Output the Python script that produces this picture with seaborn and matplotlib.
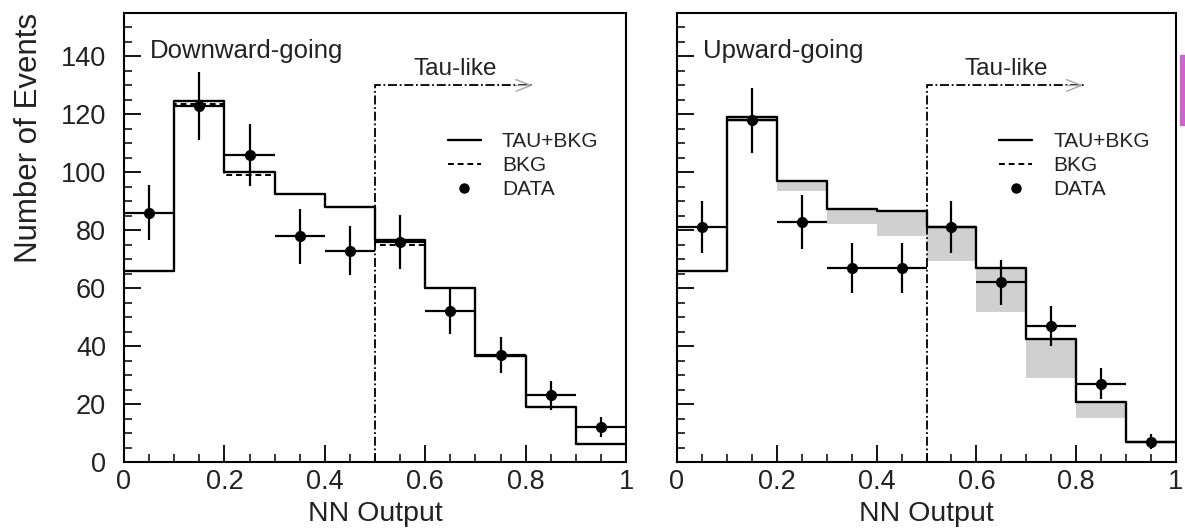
import numpy as np
import matplotlib
matplotlib.use("Agg")
import matplotlib.pyplot as plt
import seaborn as sns
from matplotlib.lines import Line2D
from matplotlib.ticker import MultipleLocator, FuncFormatter
from matplotlib.patches import Rectangle

# ---------------- data ----------------
bin_edges = [0.0, 0.1, 0.2, 0.3, 0.4, 0.5, 0.6, 0.7, 0.8, 0.9, 1.0]
bin_centers = [0.05, 0.15, 0.25, 0.35, 0.45, 0.55, 0.65, 0.75, 0.85, 0.95]

# Downward-going
down_tau_bkg = [66, 124.5, 100, 92.4, 88, 76.7, 60, 36.6, 18.9, 6.3]
down_bkg = [66, 123.6, 99.2, 92.4, 88, 75.0, 60, 36.6, 18.9, 6.3]
down_data = [86, 123, 106, 78, 73, 76, 52, 37, 23, 12]
down_err = [9.5, 11.8, 10.7, 9.5, 8.6, 9.3, 7.7, 6.3, 5.1, 3.5]

# Upward-going
up_tau_bkg = [66, 119.2, 97.1, 87.2, 86.6, 81.2, 66.9, 42.3, 20.6, 6.9]
up_band_low = [65.5, 117.5, 93.4, 82, 78, 69.4, 51.8, 28.9, 15.1, 6.6]
up_data = [81, 118, 83, 67, 67, 81, 62, 47, 27, 7]
up_err = [9.0, 11.2, 9.3, 8.5, 8.5, 9.0, 7.9, 6.8, 5.3, 2.6]

panel_titles = ["Downward-going", "Upward-going"]
legend_labels = ["TAU+BKG", "BKG", "DATA"]
tau_cut = 0.5
arrow_y = 130
arrow_end = 0.815

# ---------------- style ----------------
sns.set_theme(style="ticks")
plt.rcParams['font.family'] = ['Liberation Sans', 'DejaVu Sans']
plt.rcParams['axes.linewidth'] = 1.5

W, H = 1185, 528
fig = plt.figure(figsize=(W / 100, H / 100), dpi=100)
bottom = 1 - 462 / H
height = (462 - 13) / H
axL = fig.add_axes([124 / W, bottom, (626 - 124) / W, height])
axR = fig.add_axes([677 / W, bottom, (1176 - 677) / W, height], sharey=axL)

half_w = np.diff(bin_edges) / 2


def draw_panel(ax, tau_bkg, bkg, data, err, band_low, title, show_ylab):
    if band_low is not None:
        ax.stairs(tau_bkg, bin_edges, baseline=band_low, fill=True,
                  color='#d0d0d0', lw=0, zorder=1)
    if bkg is not None:
        sns.histplot(x=bin_centers, weights=bkg, bins=bin_edges, element="step",
                     fill=False, color="black", linewidth=1.4,
                     linestyle=(0, (3, 2)), ax=ax, zorder=2)
    sns.histplot(x=bin_centers, weights=tau_bkg, bins=bin_edges, element="step",
                 fill=False, color="black", linewidth=1.7, ax=ax, zorder=3)
    ax.errorbar(bin_centers, data, yerr=err, xerr=half_w, fmt='o', color='black',
                ms=7, elinewidth=1.6, capsize=0, zorder=4)

    # Tau-like region marker
    ax.plot([tau_cut, tau_cut, arrow_end], [0, arrow_y, arrow_y], color='black',
            lw=1.3, ls=(0, (5, 1.5, 1, 1.5)), zorder=3)
    ax.annotate('', xy=(arrow_end + 0.005, arrow_y), xytext=(arrow_end - 0.04, arrow_y),
                arrowprops=dict(arrowstyle='->, head_length=0.9, head_width=0.35',
                                color='0.65', lw=1.0))
    ax.text(0.66, 133.5, "Tau-like", ha='center', va='baseline', fontsize=17.5,
            color='#222222')
    ax.text(0.052, 139.5, title, ha='left', va='baseline', fontsize=18.5,
            color='#222222')

    handles = [Line2D([], [], color='black', lw=1.7),
               Line2D([], [], color='black', lw=1.4, ls=(0, (3, 2))),
               Line2D([], [], color='black', marker='o', ms=6.5, ls='none')]
    leg = ax.legend(handles, legend_labels, loc='upper left',
                    bbox_to_anchor=(0.645, 0.735), bbox_transform=ax.transAxes,
                    frameon=False, fontsize=15, handlelength=1.6,
                    handletextpad=1.0, labelspacing=0.25, borderpad=0,
                    borderaxespad=0)
    for t in leg.get_texts():
        t.set_color('#222222')

    ax.set_xlim(0, 1)
    ax.set_ylim(0, 155)
    ax.xaxis.set_major_locator(MultipleLocator(0.2))
    ax.xaxis.set_minor_locator(MultipleLocator(0.05))
    ax.yaxis.set_major_locator(MultipleLocator(20))
    ax.yaxis.set_minor_locator(MultipleLocator(5))
    ax.xaxis.set_major_formatter(FuncFormatter(lambda v, p: f"{v:g}"))
    ax.tick_params(which='major', direction='in', length=12, width=1.3,
                   labelsize=19.5, colors='black', labelcolor='#222222')
    ax.tick_params(which='minor', direction='in', length=6, width=1.3)
    ax.tick_params(axis='y', which='major', pad=13)
    ax.tick_params(axis='x', which='major', pad=5)
    ax.tick_params(top=False, right=False, which='both')
    for s in ax.spines.values():
        s.set_visible(True)
        s.set_color('black')
        s.set_linewidth(1.5)

    ax.set_xlabel("NN Output", fontsize=20.5, color='#222222')
    ax.xaxis.set_label_coords(0.5, -0.087)
    if show_ylab:
        ax.set_ylabel("Number of Events", fontsize=22.5, loc='top', color='#222222')
        ax.yaxis.set_label_coords(-0.16, 1.0)
    else:
        ax.set_ylabel("")
        ax.tick_params(axis='y', labelleft=False)


draw_panel(axL, down_tau_bkg, down_bkg, down_data, down_err, None, panel_titles[0], True)
draw_panel(axR, up_tau_bkg, None, up_data, up_err, up_band_low, panel_titles[1], False)

# small magenta artifact at the right edge of the reference
fig.patches.append(Rectangle((1180 / W, 1 - 125 / H), 5 / W, 70 / H,
                             transform=fig.transFigure, color='#cc66cc', zorder=0))

fig.savefig("out.png", dpi=100, facecolor='white')
